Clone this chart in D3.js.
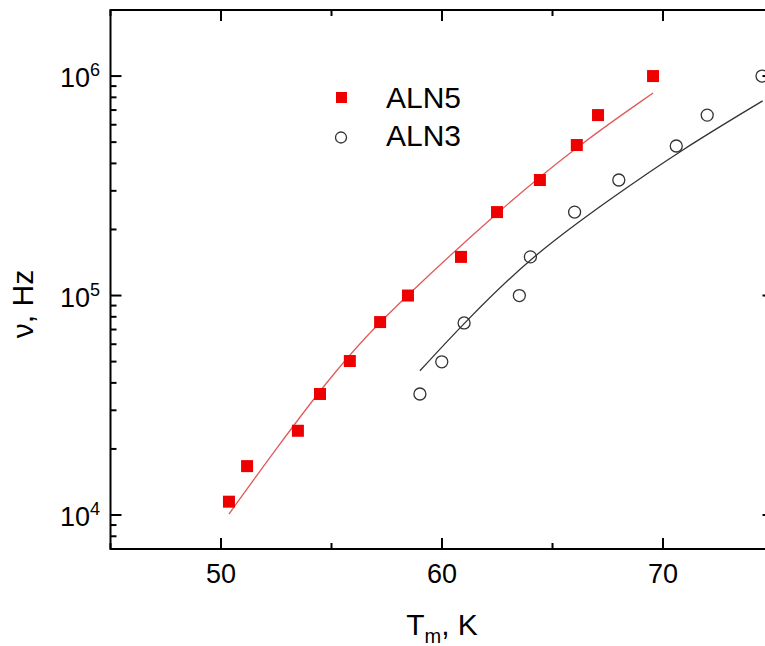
<!DOCTYPE html>
<html>
<head>
<meta charset="utf-8">
<script src="https://cdn.jsdelivr.net/npm/d3@7"></script>
<style>
  body { margin: 0; background: #fff; }
  svg { display: block; font-family: "Liberation Sans", Arial, sans-serif; }
</style>
</head>
<body>
<svg id="chart" width="765" height="646"></svg>
<script>
// measured points
const aln5T = [50.36, 51.18, 53.48, 54.48, 55.83, 57.2, 58.46, 60.86, 62.49, 64.43, 66.1, 67.06, 69.55];
const aln5F = [1.15e4, 1.67e4, 2.42e4, 3.56e4, 5.03e4, 7.57e4, 1.0e5, 1.5e5, 2.4e5, 3.36e5, 4.85e5, 6.64e5, 1.0e6];
const aln3T = [59.0, 59.99, 61.0, 63.5, 64.0, 66.0, 68.0, 70.6, 72.0, 74.48];
const aln3F = [3.56e4, 4.99e4, 7.5e4, 1.0e5, 1.5e5, 2.4e5, 3.36e5, 4.8e5, 6.64e5, 1.0e6];

// fit curves
const fit5T = [50.36, 52.58, 54.84, 56.56, 58.33, 62.49, 66.11, 69.55];
const fit5F = [1.01e4, 2.06e4, 4.12e4, 6.53e4, 9.84e4, 2.4e5, 4.8e5, 8.37e5];
const fit3T = [59.0, 61.0, 64.0, 67.71, 70.77, 74.51];
const fit3F = [4.54e4, 7.5e4, 1.5e5, 2.8e5, 4.57e5, 7.71e5];

const xMajor = [50, 60, 70];
const xMinor = [45, 55, 65, 75];
const yMajor = [1e4, 1e5, 1e6];
const seriesNames = ["ALN5", "ALN3"];

const svg = d3.select("#chart");
const pLeft = 110.5, pRight = 773.5, pTop = 10, pBottom = 549;

const x = d3.scaleLinear().domain([45, 75]).range([pLeft, pRight]);
const y = d3.scaleLog().domain([7000, 2e6]).range([pBottom, pTop]);

// minor log ticks 2..9 of each decade inside domain
const yMinor = [];
[1e3, 1e4, 1e5, 1e6].forEach(d => {
  for (let k = 2; k <= 9; k++) {
    const v = d * k;
    if (v > 7000 && v < 2e6) yMinor.push(v);
  }
});

const axisG = svg.append("g").attr("stroke", "#000").attr("stroke-width", 2);

// frame
axisG.append("rect")
  .attr("x", pLeft).attr("y", pTop)
  .attr("width", pRight - pLeft).attr("height", pBottom - pTop)
  .attr("fill", "none");

// x ticks, bottom and top, inward
xMajor.forEach(v => {
  axisG.append("line").attr("x1", x(v)).attr("x2", x(v)).attr("y1", pBottom).attr("y2", pBottom - 11);
  axisG.append("line").attr("x1", x(v)).attr("x2", x(v)).attr("y1", pTop).attr("y2", pTop + 11);
});
xMinor.forEach(v => {
  axisG.append("line").attr("x1", x(v)).attr("x2", x(v)).attr("y1", pBottom).attr("y2", pBottom - 6);
  axisG.append("line").attr("x1", x(v)).attr("x2", x(v)).attr("y1", pTop).attr("y2", pTop + 6);
});

// y ticks, left and right, inward
yMajor.forEach(v => {
  axisG.append("line").attr("x1", pLeft).attr("x2", pLeft + 11).attr("y1", y(v)).attr("y2", y(v));
  axisG.append("line").attr("x1", pRight).attr("x2", pRight - 11).attr("y1", y(v)).attr("y2", y(v));
});
yMinor.forEach(v => {
  axisG.append("line").attr("x1", pLeft).attr("x2", pLeft + 6).attr("y1", y(v)).attr("y2", y(v));
  axisG.append("line").attr("x1", pRight).attr("x2", pRight - 6).attr("y1", y(v)).attr("y2", y(v));
});

// tick labels
svg.append("g").selectAll("text").data(xMajor).join("text")
  .attr("x", d => x(d)).attr("y", pBottom + 34)
  .attr("text-anchor", "middle").attr("font-size", 27)
  .text(d => d);

const yl = svg.append("g").selectAll("text").data(yMajor).join("text")
  .attr("x", 100).attr("y", d => y(d) + 11)
  .attr("text-anchor", "end").attr("font-size", 27);
yl.append("tspan").text("10");
yl.append("tspan").attr("font-size", 18).attr("dy", -11).text(d => Math.round(Math.log10(d)));

// axis titles
const xt = svg.append("text").attr("x", (pLeft + pRight) / 2).attr("y", 635)
  .attr("text-anchor", "middle").attr("font-size", 30);
xt.append("tspan").text("T");
xt.append("tspan").attr("font-size", 20).attr("dy", 8).text("m");
xt.append("tspan").attr("dy", -8).text(", K");

svg.append("text")
  .attr("transform", "translate(33,304) rotate(-90)")
  .attr("text-anchor", "middle").attr("font-size", 30)
  .text("ν, Hz");

// fit lines
const line = d3.line().x(d => x(d[0])).y(d => y(d[1])).curve(d3.curveBasis);
svg.append("path").datum(d3.zip(fit5T, fit5F))
  .attr("d", line).attr("fill", "none").attr("stroke", "#e05a5a").attr("stroke-width", 1.3);
svg.append("path").datum(d3.zip(fit3T, fit3F))
  .attr("d", line).attr("fill", "none").attr("stroke", "#333").attr("stroke-width", 1.3);

// markers
svg.append("g").selectAll("rect").data(d3.zip(aln5T, aln5F)).join("rect")
  .attr("x", d => x(d[0]) - 6).attr("y", d => y(d[1]) - 6)
  .attr("width", 12).attr("height", 12).attr("fill", "#ee0000");

svg.append("g").selectAll("circle").data(d3.zip(aln3T, aln3F)).join("circle")
  .attr("cx", d => x(d[0])).attr("cy", d => y(d[1])).attr("r", 6)
  .attr("fill", "none").attr("stroke", "#333").attr("stroke-width", 1.3);

// legend
svg.append("rect").attr("x", 336).attr("y", 92).attr("width", 11).attr("height", 11).attr("fill", "#ee0000");
svg.append("circle").attr("cx", 341).attr("cy", 137.5).attr("r", 5.5)
  .attr("fill", "none").attr("stroke", "#333").attr("stroke-width", 1.3);
svg.append("g").selectAll("text").data(seriesNames).join("text")
  .attr("x", 386).attr("y", (d, i) => 108 + i * 38)
  .attr("font-size", 30).text(d => d);
</script>
</body>
</html>
